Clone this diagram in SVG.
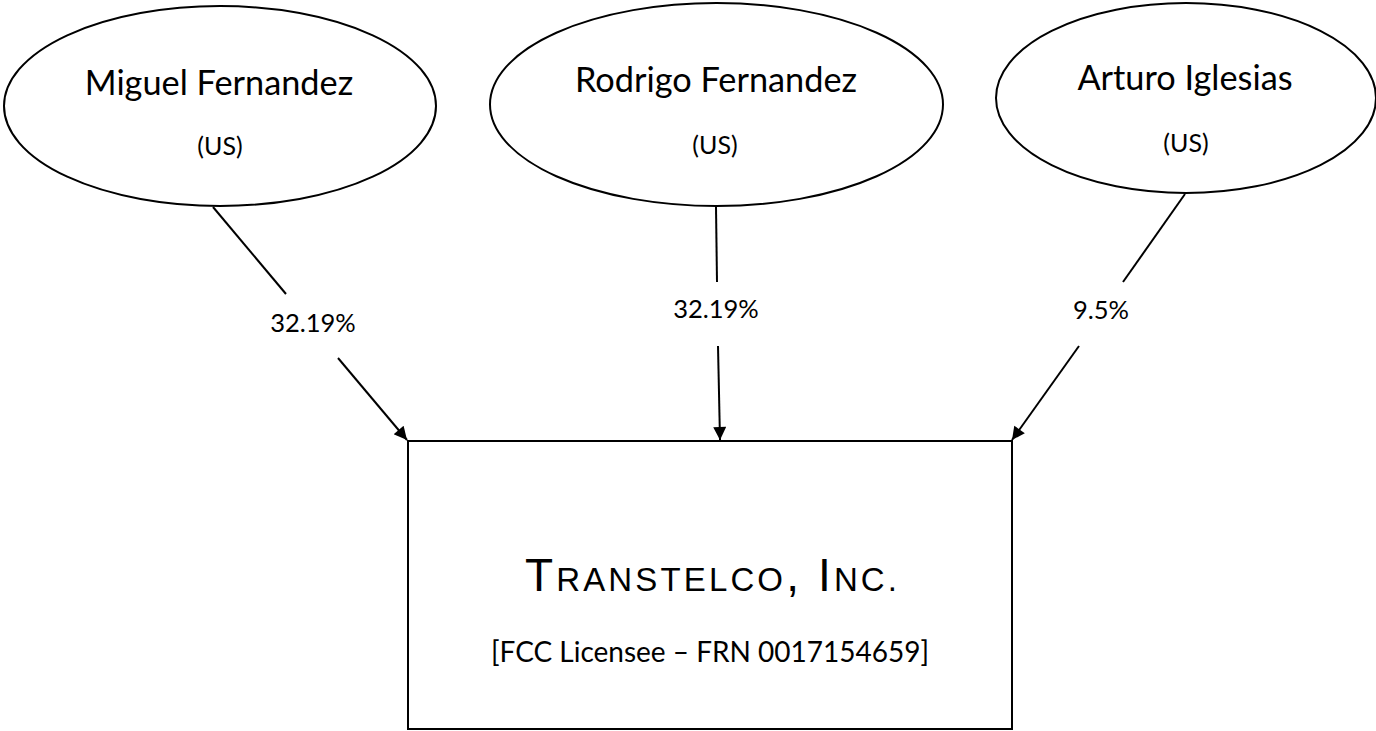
<svg xmlns="http://www.w3.org/2000/svg" width="1376" height="731" viewBox="0 0 1376 731">
<defs>
<style>
.node{fill:#fff;stroke:#000;stroke-width:2}
.t{font-family:Lato,"Liberation Sans",sans-serif;fill:#000;text-anchor:middle}
.name{font-size:34.3px}
.cty{font-size:25px}
.pct{font-size:25.5px}
.edge{stroke:#000;stroke-width:2;fill:none}
.title{font-family:"Liberation Sans",Arial,sans-serif;font-size:46px}
.sc{font-size:33px}
.sub{font-size:28px}
</style>
<marker id="ah" viewBox="0 0 10 10" refX="10" refY="5" markerWidth="15" markerHeight="13" markerUnits="userSpaceOnUse" orient="auto">
<path d="M0,0 L10,5 L0,10 z" fill="#000"/>
</marker>
</defs>
<rect width="1376" height="731" fill="#fff"/>
<g id="miguel">
<ellipse class="node" cx="220" cy="106" rx="216" ry="100"/>
<text class="t name" x="219" y="95">Miguel Fernandez</text>
<text class="t cty" x="220" y="155">(US)</text>
</g>
<g id="rodrigo">
<ellipse class="node" cx="716.5" cy="104.5" rx="226.5" ry="101.5"/>
<text class="t name" x="716" y="92">Rodrigo Fernandez</text>
<text class="t cty" x="715" y="154">(US)</text>
</g>
<g id="arturo">
<ellipse class="node" cx="1186" cy="98" rx="190" ry="95"/>
<text class="t name" x="1185" y="90">Arturo Iglesias</text>
<text class="t cty" x="1186" y="152">(US)</text>
</g>
<g id="transtelco">
<rect class="node" x="408" y="441" width="604" height="288"/>
<text class="t title" x="711" y="591" textLength="372" lengthAdjust="spacing">T<tspan class="sc">RANSTELCO</tspan>, I<tspan class="sc">NC.</tspan></text>
<text class="t sub" x="710" y="662">[FCC Licensee – FRN 0017154659]</text>
</g>
<g id="connectors">
<line class="edge" x1="213" y1="207" x2="286" y2="294"/>
<line class="edge" x1="338" y1="358" x2="407" y2="440" marker-end="url(#ah)"/>
<text class="t pct" x="313" y="332">32.19%</text>
<line class="edge" x1="716" y1="207" x2="717" y2="282"/>
<line class="edge" x1="718" y1="346" x2="720" y2="440" marker-end="url(#ah)"/>
<text class="t pct" x="716" y="318">32.19%</text>
<line class="edge" x1="1185" y1="194" x2="1123" y2="282"/>
<line class="edge" x1="1079" y1="346" x2="1012" y2="440" marker-end="url(#ah)"/>
<text class="t pct" x="1101" y="319">9.5%</text>
</g>
</svg>
